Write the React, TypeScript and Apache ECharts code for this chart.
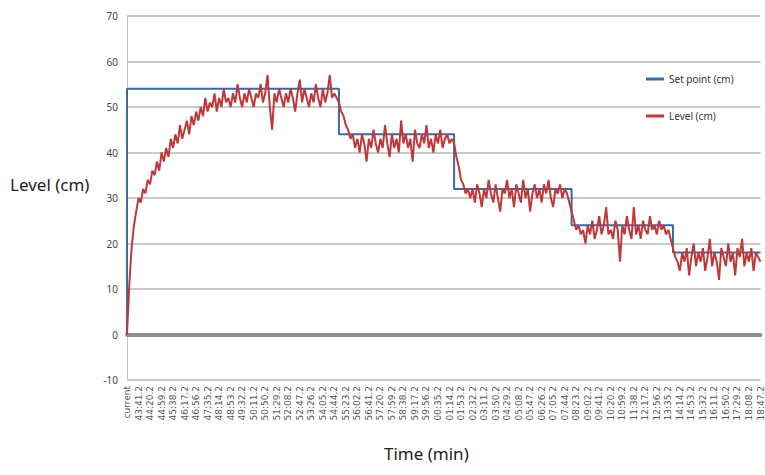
import React, { useEffect, useRef } from "react";
import * as echarts from "echarts";

const tickLabels: string[] = [
  "current", "43:41.2", "44:20.2", "44:59.2", "45:38.2", "46:17.2", "46:56.2", "47:35.2",
  "48:14.2", "48:53.2", "49:32.2", "50:11.2", "50:50.2", "51:29.2", "52:08.2", "52:47.2",
  "53:26.2", "54:05.2", "54:44.2", "55:23.2", "56:02.2", "56:41.2", "57:20.2", "57:59.2",
  "58:38.2", "59:17.2", "59:56.2", "00:35.2", "01:14.2", "01:53.2", "02:32.2", "03:11.2",
  "03:50.2", "04:29.2", "05:08.2", "05:47.2", "06:26.2", "07:05.2", "07:44.2", "08:23.2",
  "09:02.2", "09:41.2", "10:20.2", "10:59.2", "11:38.2", "12:17.2", "12:56.2", "13:35.2",
  "14:14.2", "14:53.2", "15:32.2", "16:11.2", "16:50.2", "17:29.2", "18:08.2", "18:47.2",
];

// samples between two labelled ticks
const samplesPerTick = 5;

// Level (cm)
const levelValues: number[] = [
  0, 11, 19, 24, 27, 30, 29, 32, 31, 34,
  33, 36, 35, 38, 36, 40, 38, 41, 39, 43,
  41, 44, 42, 46, 43, 45, 47, 44, 48, 46,
  49, 47, 50, 48, 52, 49, 51, 50, 53, 49,
  52, 50, 54, 51, 52, 50, 53, 51, 55, 52,
  50, 53, 51, 54, 52, 50, 53, 52, 55, 51,
  53, 57, 50, 45, 53, 51, 54, 52, 50, 53,
  51, 54, 52, 49, 53, 56, 51, 54, 52, 50,
  53, 51, 55, 52, 50, 54, 51, 53, 57, 52,
  53, 52, 51, 49, 48, 46, 45, 43, 44, 41,
  43, 40, 44, 42, 38, 43, 41, 45, 42, 40,
  43, 41, 46, 42, 39, 44, 41, 43, 40, 47,
  42, 44, 41, 43, 38, 45, 42, 41, 44, 42,
  46, 41, 43, 40, 44, 42, 45, 41, 43, 44,
  42, 43, 42, 39, 37, 34, 33, 31, 32, 30,
  32, 29, 33, 31, 28, 32, 30, 34, 31, 29,
  33, 30, 27, 32, 31, 34, 30, 32, 28, 33,
  31, 29, 34, 30, 32, 27, 31, 33, 30, 32,
  29, 33, 31, 34, 30, 28, 32, 31, 33, 30,
  32, 31, 29, 27, 25, 23, 24, 22, 23, 20,
  24, 22, 25, 21, 23, 26, 22, 24, 28, 22,
  23, 21, 25, 23, 16, 24, 22, 26, 23, 21,
  28, 22, 24, 21, 25, 23, 22, 26, 23, 24,
  22, 25, 23, 24, 22, 23, 21, 19, 17, 16,
  14, 18, 16, 19, 13, 17, 20, 15, 18, 16,
  19, 14, 17, 21, 15, 18, 16, 12, 19, 17,
  15, 20, 16, 18, 13, 19, 17, 21, 15, 18,
  16, 19, 14, 18, 17, 16,
];

// Set point (cm): sample index where each level begins
const setPointStarts: number[] = [0, 1, 93, 143, 194, 238];
const setPointLevels: number[] = [0, 54, 44, 32, 24, 18];

const seriesNames = ["Set point (cm)", "Level (cm)"];

export default function App() {
  const ref = useRef<HTMLDivElement>(null);

  useEffect(() => {
    if (!ref.current) return;
    const chart = echarts.init(ref.current, null, { renderer: "svg" });

    const categories: string[] = [];
    tickLabels.forEach((lab, t) => {
      categories.push(lab);
      if (t < tickLabels.length - 1) {
        for (let k = 1; k < samplesPerTick; k++) categories.push("");
      }
    });

    const setPoint: number[] = levelValues.map((_, i) => {
      let v = setPointLevels[0];
      setPointStarts.forEach((s, j) => {
        if (i >= s) v = setPointLevels[j];
      });
      return v;
    });

    chart.setOption({
      animation: false,
      backgroundColor: "#ffffff",
      grid: { left: 127, right: 2, top: 16, bottom: 95, containLabel: false },
      legend: {
        data: seriesNames,
        orient: "vertical",
        left: 641,
        top: 69,
        itemGap: 27,
        itemWidth: 18,
        itemHeight: 3,
        icon: "rect",
        textStyle: { fontSize: 10, color: "#333", fontFamily: "Noto Sans" },
      },
      xAxis: {
        type: "category",
        data: categories,
        boundaryGap: false,
        axisLine: { onZero: true, lineStyle: { color: "#8f8f8f", width: 4 } },
        axisTick: { show: false },
        axisLabel: {
          interval: 0,
          rotate: 90,
          fontSize: 9,
          color: "#555",
          margin: 6,
          fontFamily: "DejaVu Sans",
        },
        splitLine: { show: false },
      },
      yAxis: {
        type: "value",
        min: -10,
        max: 70,
        interval: 10,
        axisLine: { show: true, lineStyle: { color: "#c4c4c4", width: 1 } },
        axisTick: { show: false },
        axisLabel: { fontSize: 10, color: "#444", margin: 9, fontFamily: "Noto Sans" },
        splitLine: { lineStyle: { color: "#c9c9c9", width: 2 } },
      },
      graphic: [
        {
          type: "text",
          left: 10,
          top: 176,
          style: { text: "Level (cm)", fontSize: 17, fill: "#222", fontFamily: "Noto Sans" },
        },
        {
          type: "text",
          left: 384,
          top: 445,
          style: { text: "Time (min)", fontSize: 17, fill: "#222", fontFamily: "Noto Sans" },
        },
      ],
      series: [
        {
          name: seriesNames[0],
          type: "line",
          step: "start",
          data: setPoint,
          showSymbol: false,
          symbol: "none",
          itemStyle: { color: "#3c6a9e" },
          lineStyle: { color: "#3c6a9e", width: 2 },
          z: 2,
        },
        {
          name: seriesNames[1],
          type: "line",
          data: levelValues,
          showSymbol: false,
          symbol: "none",
          itemStyle: { color: "#c0393a" },
          lineStyle: { color: "#c0393a", width: 2 },
          z: 3,
        },
      ],
    });

    return () => chart.dispose();
  }, []);

  return (
    <div
      ref={ref}
      style={{ position: "fixed", left: 0, top: 0, width: 765, height: 475 }}
    />
  );
}
